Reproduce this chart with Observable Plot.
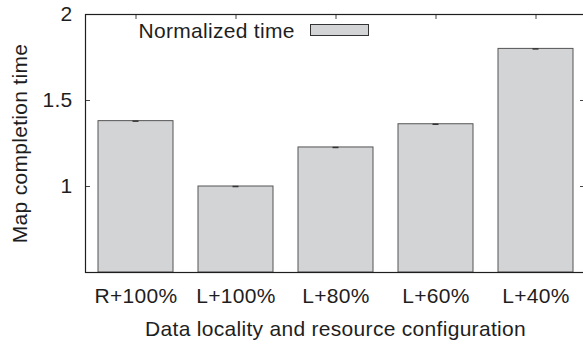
<!DOCTYPE html>
<html><head><meta charset="utf-8">
<script src="https://cdn.jsdelivr.net/npm/d3@7"></script>
<script src="https://cdn.jsdelivr.net/npm/@observablehq/plot@0.6"></script>
<style>body{margin:0;background:#fff} svg text{font-family:'Liberation Sans', Arial, sans-serif;}</style>
</head><body><div id="chart"></div>
<script>
const categories = ["R+100%", "L+100%", "L+80%", "L+60%", "L+40%"];
const values = [1.38, 1.0, 1.227, 1.362, 1.8];
const yTicks = [1, 1.5, 2];
const seriesName = "Normalized time";
const xTitle = "Data locality and resource configuration";
const yTitle = "Map completion time";

const data = categories.map((c, i) => ({cat: c, value: values[i]}));
const W = 583, H = 346, mL = 85, mT = 14, mB = 74, mR = -2;
const plotW = W - mL - mR;
const plotH = H - mT - mB;
const ink = "#1e1e1e";
const fs = 21;

const svg = Plot.plot({
  width: W, height: H,
  marginLeft: mL, marginRight: mR, marginTop: mT, marginBottom: mB,
  style: {fontFamily: "'Liberation Sans', Arial, sans-serif", fontSize: fs + "px", color: ink, background: "#fff", letterSpacing: "0.3px", overflow: "visible"},
  x: {domain: categories, paddingInner: 0.25, paddingOuter: 0.125},
  y: {domain: [0.5, 2]},
  marks: [
    Plot.barY(data, {x: "cat", y1: 0.5, y2: "value", fill: "#d3d4d6", stroke: "#555", strokeWidth: 1}),
    Plot.tickY(data, {x: "cat", y: "value", insetLeft: 34.5, insetRight: 34.5, stroke: "#333", strokeWidth: 1.5}),
    Plot.tickY(yTicks, {y: d => d, insetRight: plotW - 5, stroke: "#444"}),
    Plot.tickY(yTicks, {y: d => d, insetLeft: plotW - 5, stroke: "#444"}),
    Plot.tickX(categories, {x: d => d, insetBottom: plotH - 5, stroke: "#444"}),
    Plot.axisY({ticks: yTicks, tickSize: 0, tickPadding: 13, tickFormat: d => String(d), label: null, fontSize: fs}),
    Plot.axisX({tickSize: 0, tickPadding: 16, label: null, fontSize: fs}),
    Plot.text([yTitle], {text: d => d, frameAnchor: "left", textAnchor: "middle", dx: -65, rotate: -90, fontSize: fs, fill: ink}),
    Plot.text([xTitle], {text: d => d, frameAnchor: "bottom", textAnchor: "middle", dy: 63, lineAnchor: "bottom", fontSize: fs, fill: ink}),
    Plot.text([seriesName], {text: d => d, frameAnchor: "top-left", dx: 53, dy: 23, lineAnchor: "bottom", textAnchor: "start", fontSize: fs, fill: ink}),
    Plot.frame({stroke: ink, strokeWidth: 1.2})
  ]
});

d3.select(svg).append("rect")
  .attr("x", 310.5).attr("y", 24.5).attr("width", 58).attr("height", 11)
  .attr("fill", "#d3d4d6").attr("stroke", "#333").attr("stroke-width", 1);

document.getElementById("chart").appendChild(svg);
</script>
</body></html>
